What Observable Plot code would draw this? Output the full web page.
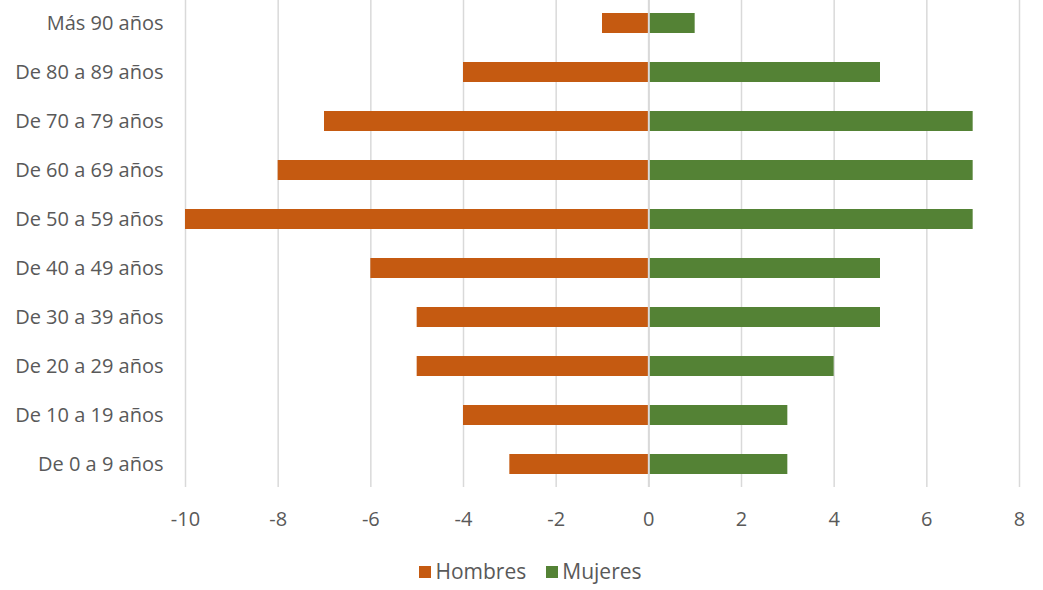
<!DOCTYPE html>
<html><head><meta charset="utf-8">
<script src="https://cdn.jsdelivr.net/npm/d3@7"></script>
<script src="https://cdn.jsdelivr.net/npm/@observablehq/plot@0.6"></script>
<style>
body{margin:0;background:#fff;font-family:"Open Sans",sans-serif;}
#legend{display:flex;justify-content:center;gap:20px;font-size:21px;color:#595959;margin-left:18px;margin-top:12px}
#legend span.sw{display:inline-block;width:12px;height:12px;margin-right:4px;vertical-align:middle;position:relative;top:-1px}
</style></head><body>
<div id="chart"></div>
<div id="legend"></div>
<script>
const categories = ["Más 90 años","De 80 a 89 años","De 70 a 79 años","De 60 a 69 años","De 50 a 59 años","De 40 a 49 años","De 30 a 39 años","De 20 a 29 años","De 10 a 19 años","De 0 a 9 años"];
const hombres = [-1,-4,-7,-8,-10,-6,-5,-5,-4,-3];
const mujeres = [1,5,7,7,7,5,5,4,3,3];
const series = ["Hombres","Mujeres"];
const colors = ["#C55A11","#548235"];
const xTicks = [-10,-8,-6,-4,-2,0,2,4,6,8];

const data = [];
categories.forEach((c,i)=>{
  data.push({cat:c, serie:series[0], v:hombres[i]});
  data.push({cat:c, serie:series[1], v:mujeres[i]});
});

const plot = Plot.plot({
  width:1043, height:545,
  marginTop:0, marginBottom:58, marginLeft:185, marginRight:24,
  style:{fontFamily:"Open Sans, sans-serif", fontSize:"20px", color:"#595959", background:"#fff"},
  x:{domain:[-10,8], ticks:xTicks, label:null, tickSize:0, tickPadding:24, tickFormat:d=>String(d)},
  y:{domain:categories, label:null, tickSize:0, tickPadding:22, paddingInner:0.592, paddingOuter:0.265, align:0.5},
  color:{domain:series, range:colors},
  marks:[
    Plot.gridX(xTicks, {stroke:"#d9d9d9", strokeOpacity:1, strokeWidth:1.5}),
    Plot.barX(data, {x:"v", y:"cat", fill:"serie"}),
    Plot.ruleX([0], {stroke:"#d9d9d9", strokeWidth:2})
  ]
});
document.getElementById("chart").appendChild(plot);

const lg = document.getElementById("legend");
series.forEach((s,i)=>{
  const d = document.createElement("div");
  d.innerHTML = `<span class="sw" style="background:${colors[i]}"></span>${s}`;
  lg.appendChild(d);
});
</script>
</body></html>
